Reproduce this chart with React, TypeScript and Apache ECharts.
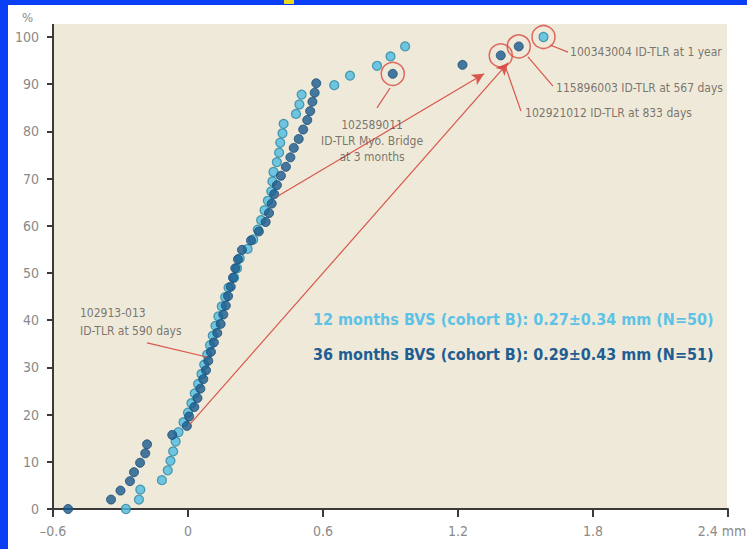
import React, { useEffect, useRef } from 'react';
import * as echarts from 'echarts';

const FONT = '"Liberation Sans Narrow", "DejaVu Sans Condensed", "Roboto Condensed", sans-serif';

// axis ticks
const xTickValues = [-0.6, 0, 0.6, 1.2, 1.8, 2.4];
const yTickValues = [0, 10, 20, 30, 40, 50, 60, 70, 80, 90, 100];

// 12 months BVS (cohort B), N=50 : late lumen loss (mm) vs cumulative %
const months12X = [
  -0.276, -0.218, -0.212, -0.116, -0.09, -0.078, -0.066, -0.055, -0.042, -0.02,
  0.0, 0.015, 0.03, 0.045, 0.06, 0.072, 0.085, 0.098, 0.11, 0.122,
  0.135, 0.15, 0.165, 0.18, 0.205, 0.218, 0.23, 0.265, 0.29, 0.31,
  0.325, 0.34, 0.355, 0.37, 0.375, 0.38, 0.395, 0.405, 0.41, 0.42,
  0.425, 0.48, 0.495, 0.505, 0.65, 0.72, 0.84, 0.9, 0.965, 1.58,
];
const months12Y = [
  0, 2.0, 4.1, 6.1, 8.2, 10.2, 12.2, 14.3, 16.3, 18.4,
  20.4, 22.4, 24.5, 26.5, 28.6, 30.6, 32.7, 34.7, 36.7, 38.8,
  40.8, 42.9, 44.9, 46.9, 49.0, 51.0, 53.1, 55.1, 57.1, 59.2,
  61.2, 63.3, 65.3, 67.3, 69.4, 71.4, 73.5, 75.5, 77.6, 79.6,
  81.6, 83.7, 85.7, 87.8, 89.8, 91.8, 93.9, 95.9, 98.0, 100,
];

// 36 months BVS (cohort B), N=51
const months36X = [
  -0.533, -0.342, -0.3, -0.258, -0.24, -0.213, -0.19, -0.182, -0.07, -0.005,
  0.005, 0.028, 0.042, 0.055, 0.068, 0.08, 0.09, 0.102, 0.115, 0.13,
  0.145, 0.157, 0.168, 0.178, 0.19, 0.2, 0.21, 0.222, 0.24, 0.28,
  0.315, 0.345, 0.36, 0.372, 0.383, 0.395, 0.413, 0.435, 0.455, 0.47,
  0.492, 0.512, 0.53, 0.543, 0.553, 0.563, 0.57, 0.91, 1.22, 1.39, 1.47,
];
const months36Y = [
  0, 2.0, 3.9, 5.9, 7.8, 9.8, 11.8, 13.7, 15.7, 17.6,
  19.6, 21.6, 23.5, 25.5, 27.5, 29.4, 31.4, 33.3, 35.3, 37.3,
  39.2, 41.2, 43.1, 45.1, 47.1, 49.0, 51.0, 52.9, 54.9, 56.9,
  58.8, 60.8, 62.7, 64.7, 66.7, 68.6, 70.6, 72.5, 74.5, 76.5,
  78.4, 80.4, 82.4, 84.3, 86.3, 88.2, 90.2, 92.2, 94.1, 96.1, 98.0,
];

// circled outliers [x, y]
const circledPoints = [
  [1.58, 100],
  [1.47, 98.0],
  [1.39, 96.1],
  [0.91, 92.2],
];

// annotation labels: [x, y, text]
const annotLeft: [number, number, string][] = [
  [1.698, 96.8, '100343004 ID-TLR at 1 year'],
  [1.636, 89.2, '115896003 ID-TLR at 567 days'],
  [1.498, 83.9, '102921012 ID-TLR at 833 days'],
  [-0.48, 39.6, '102913-013\nID-TLR at 590 days'],
];
const annotCenter: [number, number, string][] = [
  [0.818, 78.0, '102589011\nID-TLR Myo. Bridge\nat 3 months'],
];

// leader lines [[x1,y1],[x2,y2]]
const leaderLines = [
  [[1.609, 98.3], [1.689, 96.8]],
  [[1.511, 95.8], [1.622, 89.6]],
  [[1.413, 93.4], [1.48, 84.3]],
  [[0.898, 89.2], [0.84, 85.0]],
  [[-0.182, 35.2], [0.084, 32.2]],
];
// arrows [[x1,y1],[x2,y2]]
const arrowLines = [
  [[0.4, 66.3], [1.316, 92.2]],
  [[0.009, 18.0], [1.422, 94.5]],
];

const legend12 = '12 months BVS (cohort B): 0.27\u00b10.34 mm (N=50)';
const legend36 = '36 months BVS (cohort B): 0.29\u00b10.43 mm (N=51)';

const zip = (xs: number[], ys: number[]) => xs.map((x, i) => [x, ys[i]]);

export default function App() {
  const ref = useRef<HTMLDivElement>(null);
  useEffect(() => {
    if (!ref.current) return;
    const chart = echarts.init(ref.current, undefined, { renderer: 'svg' });
    const axisColor = '#3a3a3a';
    const labelColor = '#8a8a8a';
    const option: any = {
      animation: false,
      backgroundColor: '#ffffff',
      grid: { left: 53, right: 19, top: 37, bottom: 40, containLabel: false, outerBoundsMode: 'none' },
      graphic: [
        { type: 'rect', z: -10, shape: { x: 0, y: 0, width: 747, height: 5 }, style: { fill: '#0b3ff5' } },
        { type: 'rect', z: -10, shape: { x: 0, y: 0, width: 8, height: 549 }, style: { fill: '#0b3ff5' } },
        { type: 'rect', z: -10, shape: { x: 284, y: 0, width: 10, height: 4 }, style: { fill: '#e8d820' } },
        { type: 'rect', z: -10, shape: { x: 53, y: 24, width: 674, height: 485 }, style: { fill: '#efe9d9' } },
        { type: 'line', z: 5, shape: { x1: 53, y1: 24, x2: 53, y2: 38 }, style: { stroke: axisColor, lineWidth: 2 } },
        { type: 'text', z: 5, x: 22, y: 11, style: { text: '%', fill: labelColor, font: `13px ${FONT}` } },
        {
          type: 'text', z: 5, x: 313, y: 319,
          style: { text: legend12, fill: '#5ec2e6', font: `bold 16px ${FONT}`, textVerticalAlign: 'middle' },
        },
        {
          type: 'text', z: 5, x: 313, y: 354,
          style: { text: legend36, fill: '#1f5e92', font: `bold 16px ${FONT}`, textVerticalAlign: 'middle' },
        },
      ],
      xAxis: {
        type: 'value', min: xTickValues[0], max: xTickValues[xTickValues.length - 1], interval: 0.6,
        axisLine: { onZero: false, lineStyle: { color: axisColor, width: 2 } },
        axisTick: { length: 8, lineStyle: { color: axisColor, width: 2 } },
        axisLabel: {
          color: labelColor, fontSize: 14, fontFamily: FONT, margin: 15,
          formatter: (v: number) => {
            const r = Math.round(v * 10) / 10;
            if (r === 2.4) return '{m|2.4 mm}';
            if (r < 0) return '\u2013' + Math.abs(r).toFixed(1);
            if (r === 0) return '0';
            return r.toFixed(1);
          },
          rich: {
            m: { color: labelColor, fontSize: 14, fontFamily: FONT, padding: [0, 12, 0, 0] },
          },
        },
        splitLine: { show: false },
      },
      yAxis: {
        type: 'value', min: yTickValues[0], max: yTickValues[yTickValues.length - 1], interval: 10,
        axisLine: { show: true, onZero: false, lineStyle: { color: axisColor, width: 2 } },
        axisTick: { show: true, length: 6, lineStyle: { color: axisColor, width: 2 } },
        axisLabel: { color: labelColor, fontSize: 14, fontFamily: FONT, margin: 14 },
        splitLine: { show: false },
      },
      series: [
        {
          name: '12 months', type: 'scatter', symbolSize: 9, z: 3,
          data: zip(months12X, months12Y),
          itemStyle: { color: '#4fbce0', borderColor: '#2a86a3', borderWidth: 1.2 },
        },
        {
          name: '36 months', type: 'scatter', symbolSize: 9, z: 4,
          data: zip(months36X, months36Y),
          itemStyle: { color: '#1a5a8c', borderColor: '#174b78', borderWidth: 1 },
        },
        {
          name: 'circles', type: 'scatter', symbolSize: 23, z: 6, silent: true,
          data: circledPoints,
          itemStyle: { color: 'rgba(0,0,0,0)', borderColor: '#d8473f', borderWidth: 1.5 },
          markLine: {
            silent: true, animation: false, symbol: ['none', 'none'],
            label: { show: false },
            lineStyle: { color: '#d9564c', width: 1.2, type: 'solid' },
            data: [
              ...leaderLines.map((l) => [{ coord: l[0] }, { coord: l[1] }]),
              ...arrowLines.map((l) => [
                { coord: l[0], symbol: 'none' },
                { coord: l[1], symbol: 'arrow', symbolSize: [9, 12] },
              ]),
            ],
          },
        },
        {
          name: 'annotLeft', type: 'scatter', symbolSize: 0, z: 7, silent: true,
          data: annotLeft.map((a) => ({ value: [a[0], a[1]], name: a[2] })),
          label: {
            show: true, position: 'right', distance: 0, formatter: (p: any) => p.name,
            color: '#5a5550', fontSize: 12, fontFamily: FONT, lineHeight: 18, align: 'left', verticalAlign: 'middle',
          },
        },
        {
          name: 'annotCenter', type: 'scatter', symbolSize: 0, z: 7, silent: true,
          data: annotCenter.map((a) => ({ value: [a[0], a[1]], name: a[2] })),
          label: {
            show: true, position: 'inside', formatter: (p: any) => p.name,
            color: '#5a5550', fontSize: 12, fontFamily: FONT, lineHeight: 16, align: 'center', verticalAlign: 'middle',
          },
        },
      ],
    };
    chart.setOption(option);
    return () => chart.dispose();
  }, []);
  return (
    <div
      ref={ref}
      style={{ position: 'fixed', left: 0, top: 0, width: 747, height: 549 }}
    />
  );
}
